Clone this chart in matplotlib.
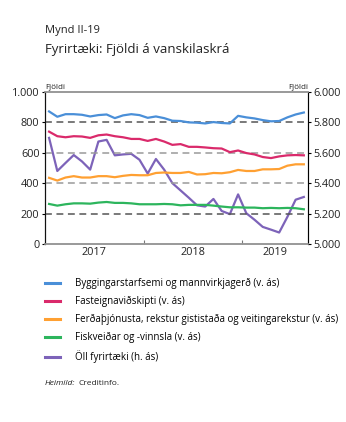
import matplotlib.pyplot as plt
from matplotlib.lines import Line2D
from matplotlib.ticker import FuncFormatter, FixedLocator

plt.rcParams["font.family"] = ["Open Sans", "DejaVu Sans"]

# Monthly, Jan 2017 - Aug 2019
years = ["2017", "2018", "2019"]
months_per_year = [12, 12, 8]

bygg = [872, 837, 854, 854, 850, 839, 848, 852, 828, 846, 854, 848,
        830, 839, 828, 811, 809, 800, 798, 793, 802, 796, 793, 843,
        833, 826, 815, 807, 809, 833, 852, 865]
fasteign = [739, 709, 702, 709, 707, 698, 715, 720, 709, 702, 691, 691,
            678, 691, 674, 652, 657, 639, 639, 635, 630, 628, 604, 615,
            598, 589, 572, 565, 576, 583, 585, 583]
ferda = [435, 417, 437, 446, 437, 437, 446, 446, 439, 448, 454, 452,
         452, 467, 470, 467, 467, 474, 457, 459, 467, 465, 472, 487,
         480, 480, 491, 491, 493, 515, 524, 524]
fisk = [263, 252, 261, 267, 267, 265, 272, 276, 270, 270, 267, 261,
        261, 261, 263, 261, 254, 257, 257, 257, 252, 246, 241, 241,
        239, 239, 235, 237, 235, 237, 235, 228]
oll = [5698, 5480, 5533, 5585, 5543, 5489, 5674, 5685, 5583, 5589, 5593, 5554,
       5463, 5559, 5489, 5400, 5352, 5304, 5254, 5246, 5296, 5217, 5196, 5326,
       5202, 5159, 5112, 5094, 5075, 5178, 5291, 5309]

left_series = [
    ("Byggingarstarfsemi og mannvirkjagerð (v. ás)", bygg, "#4a8fd8"),
    ("Fasteignaviðskipti (v. ás)", fasteign, "#da2a6b"),
    ("Ferðaþjónusta, rekstur gististaða og veitingarekstur (v. ás)", ferda, "#ffa032"),
    ("Fiskveiðar og -vinnsla (v. ás)", fisk, "#2db55d"),
]
right_label = "Öll fyrirtæki (h. ás)"
right_color = "#7d63b9"

x = list(range(len(bygg)))

fig = plt.figure(figsize=(3.46, 4.22), dpi=100)
ax = fig.add_axes([0.130, 0.422, 0.760, 0.360])
ax2 = ax.twinx()

for y_val, col in [(200, "#555555"), (400, "#9a9a9a"), (600, "#9a9a9a"), (800, "#555555")]:
    ax.axhline(y_val, color=col, lw=1.1, ls=(0, (4.5, 3)), zorder=1)

for label, vals, col in left_series:
    ax.plot(x, vals, color=col, lw=1.6, zorder=3)
ax2.plot(x, oll, color=right_color, lw=1.6, zorder=3)

ax.set_xlim(-0.5, len(x) - 0.5)
ax.set_ylim(0, 1000)
ax2.set_ylim(5000, 6000)
ax.set_yticks(range(0, 1001, 200))
ax2.set_yticks(range(5000, 6001, 200))
fmt = FuncFormatter(lambda v, p: f"{int(v):,}".replace(",", "."))
ax.yaxis.set_major_formatter(fmt)
ax2.yaxis.set_major_formatter(fmt)

# year boundaries as ticks, year labels centred in each span
bounds = []
centres = []
start = -0.5
for n in months_per_year:
    centres.append(start + n / 2)
    start += n
    bounds.append(start)
ax.xaxis.set_major_locator(FixedLocator(bounds[:-1]))
ax.xaxis.set_major_formatter(FuncFormatter(lambda v, p: ""))
ax.set_xticks(centres, minor=True)
ax.set_xticklabels(years, minor=True)
ax.tick_params(axis="x", which="major", direction="in", length=3, color="#777777")
ax.tick_params(axis="x", which="minor", length=0, pad=2, labelsize=7.8, labelcolor="#222222")
ax.tick_params(axis="y", length=2, pad=2, labelsize=7.8, labelcolor="#222222")
ax2.tick_params(axis="y", length=2, pad=2, labelsize=7.8, labelcolor="#222222")

for a in (ax, ax2):
    a.spines["top"].set_color("#999999")
    a.spines["bottom"].set_color("#999999")
    a.spines["top"].set_linewidth(1.2)
    a.spines["bottom"].set_linewidth(1.2)
ax.spines["left"].set_color("#111111")
ax2.spines["right"].set_color("#444444")
ax.set_zorder(ax2.get_zorder() + 1)
ax.patch.set_visible(False)

fig.text(45 / 346, 1 - 33 / 422, "Mynd II-19", fontsize=8, color="#222222", va="baseline")
fig.text(45 / 346, 1 - 53 / 422, "Fyrirtæki: Fjöldi á vanskilaskrá", fontsize=9.5,
         color="#222222", va="baseline")
fig.text(45 / 346, 1 - 89 / 422, "Fjöldi", fontsize=5.8, color="#222222", va="baseline")
fig.text(308 / 346, 1 - 89 / 422, "Fjöldi", fontsize=5.8, color="#222222",
         va="baseline", ha="right")

handles = [Line2D([], [], color=c, lw=2.2) for _, _, c in left_series]
handles.append(Line2D([], [], color=right_color, lw=2.2))
labels = [l for l, _, _ in left_series] + [right_label]
fig.legend(handles, labels, loc="upper left", bbox_to_anchor=(45 / 346, 1 - 278 / 422),
           frameon=False, fontsize=7, handlelength=1.55, handletextpad=1.55,
           labelspacing=0.72, borderaxespad=0, borderpad=0)

src = fig.text(45 / 346, 1 - 385 / 422, "Heimild:", fontsize=6, style="italic",
               color="#222222", va="baseline")
fig.text(0, 0, "Creditinfo.", fontsize=6, color="#222222", va="baseline",
         transform=src.get_transform())
fig.canvas.draw()
bb = src.get_window_extent()
fig.texts[-1].set_position(((bb.x1 + 3) / fig.bbox.width, 1 - 385 / 422))

fig.savefig("out.png", dpi=100)
plt.close(fig)
